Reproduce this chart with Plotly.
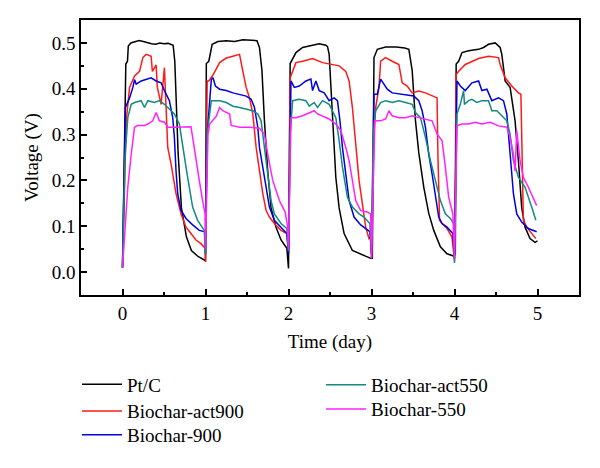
import plotly.graph_objects as go

# Pt/C
pt_t = [0.0, 0.04, 0.06, 0.07, 0.1, 0.15, 0.2, 0.25, 0.3, 0.35, 0.4, 0.45, 0.5, 0.55, 0.61, 0.63, 0.67, 0.71, 0.77, 0.83, 0.91, 0.99,
        1.0, 1.01, 1.04, 1.08, 1.15, 1.25, 1.35, 1.45, 1.55, 1.62, 1.65, 1.68, 1.71, 1.75, 1.79, 1.85, 1.91, 1.98,
        2.0, 2.02, 2.09, 2.17, 2.29, 2.37, 2.45, 2.47, 2.49, 2.53, 2.57, 2.61, 2.67, 2.77, 2.89, 2.99,
        3.01, 3.03, 3.07, 3.17, 3.3, 3.4, 3.45, 3.49, 3.53, 3.57, 3.63, 3.69, 3.75, 3.83, 3.91, 3.99,
        4.01, 4.02, 4.05, 4.09, 4.17, 4.29, 4.35, 4.41, 4.49, 4.55, 4.57, 4.61, 4.67, 4.73, 4.77, 4.81, 4.85, 4.91, 4.97, 5.0]
pt_v = [0.01, 0.454, 0.46, 0.493, 0.5, 0.502, 0.505, 0.503, 0.5, 0.498, 0.497, 0.5, 0.498, 0.499, 0.495, 0.46, 0.26, 0.14, 0.077, 0.047, 0.034, 0.027,
        0.025, 0.455, 0.46, 0.497, 0.503, 0.505, 0.503, 0.507, 0.505, 0.505, 0.49, 0.44, 0.33, 0.22, 0.14, 0.098, 0.07, 0.052,
        0.008, 0.455, 0.479, 0.49, 0.495, 0.498, 0.495, 0.492, 0.475, 0.33, 0.207, 0.14, 0.084, 0.047, 0.037, 0.03,
        0.03, 0.468, 0.486, 0.491, 0.491, 0.489, 0.486, 0.44, 0.33, 0.26, 0.185, 0.128, 0.091, 0.055, 0.04, 0.035,
        0.04, 0.454, 0.46, 0.479, 0.483, 0.486, 0.49, 0.497, 0.5, 0.49, 0.475, 0.417, 0.403, 0.33, 0.243, 0.14, 0.098, 0.073, 0.065, 0.068]

# Biochar-act900
act900_t = [0.0, 0.045, 0.085, 0.145, 0.205, 0.245, 0.285, 0.345, 0.36, 0.405, 0.42, 0.465, 0.505, 0.525, 0.545, 0.585, 0.645, 0.705, 0.765, 0.825, 0.885, 0.945, 0.995,
            1.0, 1.02, 1.04, 1.09, 1.17, 1.25, 1.33, 1.41, 1.45, 1.49, 1.53, 1.57, 1.61, 1.65, 1.69, 1.73, 1.77, 1.83, 1.91, 1.98,
            2.0, 2.02, 2.05, 2.09, 2.17, 2.29, 2.41, 2.53, 2.61, 2.69, 2.73, 2.77, 2.81, 2.85, 2.89, 2.93, 2.97, 2.99,
            3.0, 3.03, 3.05, 3.09, 3.11, 3.17, 3.25, 3.33, 3.37, 3.43, 3.49, 3.57, 3.65, 3.73, 3.79, 3.8, 3.82, 3.85, 3.91, 3.97,
            4.0, 4.02, 4.05, 4.13, 4.21, 4.29, 4.41, 4.53, 4.55, 4.61, 4.69, 4.77, 4.8, 4.81, 4.83, 4.87, 4.93, 4.98]
act900_v = [0.01, 0.33, 0.403, 0.428, 0.438, 0.468, 0.475, 0.471, 0.438, 0.452, 0.403, 0.366, 0.446, 0.366, 0.272, 0.236, 0.171, 0.127, 0.098, 0.084, 0.07, 0.062, 0.052,
            0.022, 0.417, 0.417, 0.43, 0.457, 0.467, 0.471, 0.475, 0.438, 0.403, 0.38, 0.345, 0.272, 0.22, 0.171, 0.135, 0.12, 0.106, 0.091, 0.084,
            0.05, 0.424, 0.438, 0.457, 0.46, 0.466, 0.457, 0.453, 0.45, 0.438, 0.417, 0.359, 0.272, 0.2, 0.149, 0.098, 0.073, 0.076,
            0.03, 0.3, 0.359, 0.403, 0.46, 0.468, 0.46, 0.453, 0.413, 0.406, 0.391, 0.395, 0.391, 0.384, 0.38, 0.257, 0.113, 0.106, 0.095, 0.076,
            0.025, 0.431, 0.438, 0.453, 0.46, 0.466, 0.471, 0.468, 0.453, 0.424, 0.406, 0.391, 0.388, 0.257, 0.113, 0.098, 0.084, 0.073]

# Biochar-900
b900_t = [0.0, 0.035, 0.085, 0.125, 0.145, 0.165, 0.225, 0.285, 0.345, 0.405, 0.465, 0.505, 0.565, 0.605, 0.625, 0.645, 0.665, 0.705, 0.765, 0.845, 0.925, 0.995,
          1.0, 1.02, 1.07, 1.09, 1.12, 1.17, 1.25, 1.33, 1.41, 1.49, 1.55, 1.59, 1.63, 1.65, 1.69, 1.73, 1.77, 1.83, 1.91, 1.98,
          2.0, 2.03, 2.07, 2.13, 2.21, 2.27, 2.29, 2.33, 2.37, 2.43, 2.49, 2.55, 2.59, 2.62, 2.65, 2.69, 2.73, 2.79, 2.87, 2.98,
          3.0, 3.03, 3.07, 3.11, 3.15, 3.19, 3.25, 3.33, 3.41, 3.51, 3.57, 3.61, 3.65, 3.69, 3.73, 3.77, 3.81, 3.85, 3.91, 3.98,
          4.0, 4.03, 4.07, 4.13, 4.21, 4.29, 4.33, 4.39, 4.45, 4.53, 4.59, 4.63, 4.67, 4.71, 4.75, 4.81, 4.89, 4.99]
b900_v = [0.01, 0.359, 0.38, 0.403, 0.42, 0.41, 0.417, 0.421, 0.424, 0.417, 0.413, 0.396, 0.374, 0.337, 0.294, 0.22, 0.171, 0.135, 0.117, 0.103, 0.091, 0.088,
          0.04, 0.3, 0.42, 0.424, 0.406, 0.399, 0.396, 0.391, 0.388, 0.384, 0.377, 0.359, 0.316, 0.272, 0.229, 0.185, 0.142, 0.113, 0.098, 0.084,
          0.04, 0.417, 0.403, 0.406, 0.417, 0.421, 0.396, 0.417, 0.396, 0.391, 0.374, 0.38, 0.374, 0.33, 0.272, 0.207, 0.156, 0.12, 0.103, 0.088,
          0.04, 0.388, 0.388, 0.421, 0.41, 0.399, 0.391, 0.389, 0.387, 0.384, 0.374, 0.352, 0.316, 0.257, 0.214, 0.163, 0.12, 0.106, 0.098, 0.084,
          0.03, 0.417, 0.406, 0.396, 0.413, 0.417, 0.396, 0.399, 0.374, 0.38, 0.374, 0.345, 0.257, 0.171, 0.127, 0.109, 0.095, 0.088]

# Biochar-act550
act550_t = [0.0, 0.03, 0.064, 0.105, 0.145, 0.225, 0.265, 0.305, 0.385, 0.445, 0.505, 0.565, 0.625, 0.685, 0.725, 0.765, 0.805, 0.845, 0.905, 0.985,
            1.0, 1.02, 1.07, 1.17, 1.25, 1.33, 1.41, 1.49, 1.57, 1.63, 1.67, 1.71, 1.75, 1.79, 1.83, 1.91, 1.98,
            2.0, 2.02, 2.05, 2.13, 2.21, 2.25, 2.31, 2.35, 2.41, 2.49, 2.53, 2.57, 2.61, 2.65, 2.71, 2.77, 2.85, 2.91, 2.98,
            3.0, 3.02, 3.05, 3.11, 3.17, 3.25, 3.33, 3.41, 3.49, 3.53, 3.59, 3.65, 3.71, 3.77, 3.83, 3.89, 3.95, 3.99,
            4.0, 4.03, 4.07, 4.11, 4.12, 4.17, 4.21, 4.27, 4.33, 4.41, 4.45, 4.51, 4.57, 4.63, 4.67, 4.71, 4.77, 4.85, 4.93, 4.98]
act550_v = [0.01, 0.25, 0.337, 0.366, 0.37, 0.374, 0.359, 0.374, 0.37, 0.374, 0.366, 0.355, 0.345, 0.323, 0.272, 0.229, 0.185, 0.142, 0.113, 0.091,
            0.04, 0.3, 0.374, 0.374, 0.37, 0.362, 0.359, 0.355, 0.352, 0.345, 0.33, 0.272, 0.207, 0.156, 0.127, 0.106, 0.095,
            0.045, 0.3, 0.374, 0.377, 0.374, 0.362, 0.37, 0.359, 0.374, 0.366, 0.352, 0.337, 0.287, 0.229, 0.163, 0.142, 0.127, 0.12, 0.106,
            0.04, 0.3, 0.352, 0.37, 0.374, 0.37, 0.374, 0.37, 0.366, 0.348, 0.337, 0.294, 0.243, 0.2, 0.156, 0.127, 0.117, 0.106,
            0.02, 0.345, 0.366, 0.396, 0.366, 0.374, 0.377, 0.37, 0.374, 0.374, 0.352, 0.352, 0.341, 0.33, 0.301, 0.243, 0.207, 0.185, 0.142, 0.113]

# Biochar-550
b550_t = [0.0, 0.064, 0.105, 0.145, 0.185, 0.265, 0.305, 0.365, 0.405, 0.445, 0.505, 0.545, 0.625, 0.705, 0.825, 0.845, 0.885, 0.925, 0.965, 0.995,
          1.0, 1.03, 1.05, 1.13, 1.17, 1.21, 1.29, 1.31, 1.41, 1.53, 1.65, 1.71, 1.75, 1.81, 1.89, 1.96, 1.99,
          2.0, 2.03, 2.09, 2.17, 2.25, 2.31, 2.35, 2.41, 2.49, 2.57, 2.63, 2.69, 2.73, 2.77, 2.81, 2.87, 2.95, 2.99,
          3.0, 3.04, 3.11, 3.17, 3.21, 3.25, 3.33, 3.41, 3.49, 3.57, 3.65, 3.73, 3.79, 3.85, 3.89, 3.93, 3.98,
          4.0, 4.03, 4.09, 4.17, 4.25, 4.33, 4.43, 4.53, 4.63, 4.67, 4.71, 4.73, 4.75, 4.79, 4.83, 4.89, 4.95, 4.99]
b550_v = [0.01, 0.185, 0.257, 0.316, 0.32, 0.32, 0.323, 0.33, 0.348, 0.33, 0.327, 0.316, 0.316, 0.317, 0.317, 0.294, 0.243, 0.2, 0.156, 0.127,
          0.05, 0.3, 0.323, 0.34, 0.359, 0.352, 0.345, 0.32, 0.316, 0.316, 0.314, 0.301, 0.257, 0.2, 0.156, 0.131, 0.098,
          0.05, 0.337, 0.337, 0.341, 0.348, 0.352, 0.345, 0.341, 0.334, 0.323, 0.309, 0.272, 0.243, 0.2, 0.156, 0.134, 0.131, 0.127,
          0.03, 0.33, 0.33, 0.334, 0.352, 0.341, 0.337, 0.337, 0.341, 0.337, 0.334, 0.33, 0.301, 0.287, 0.229, 0.163, 0.127,
          0.03, 0.319, 0.323, 0.323, 0.327, 0.323, 0.327, 0.319, 0.316, 0.294, 0.257, 0.22, 0.309, 0.243, 0.207, 0.185, 0.163, 0.145]

# one legend per entry so each row sits where it does in the figure
series = [
    ("Pt/C", pt_t, pt_v, "#000000", "legend"),
    ("Biochar-act900", act900_t, act900_v, "#ff1a1a", "legend2"),
    ("Biochar-900", b900_t, b900_v, "#0000dd", "legend3"),
    ("Biochar-act550", act550_t, act550_v, "#118a80", "legend4"),
    ("Biochar-550", b550_t, b550_v, "#ff22ff", "legend5"),
]
legend_pos = {
    "legend": (-0.008, -0.325),
    "legend2": (-0.008, -0.422),
    "legend3": (-0.008, -0.509),
    "legend4": (0.482, -0.327),
    "legend5": (0.482, -0.415),
}

fig = go.Figure()
for name, t, v, color, leg in series:
    fig.add_trace(go.Scatter(x=t, y=v, mode="lines", name=name, showlegend=True,
                             line=dict(color=color, width=1.5), legend=leg))

font = dict(family="Liberation Serif, Times New Roman, serif", size=19, color="black")
axis_style = dict(
    showline=True, mirror=True, linecolor="black", linewidth=1.5,
    showgrid=False, zeroline=False, automargin=False,
    ticks="inside", ticklen=6, tickwidth=1.5, tickcolor="black",
    tickfont=font,
)

legends = {}
for key, (lx, ly) in legend_pos.items():
    legends[key] = dict(x=lx, y=ly, xanchor="left", yanchor="middle", font=font,
                        bgcolor="rgba(0,0,0,0)", itemwidth=40)

# the page body adds an 8px offset, so margins are set 8px short on the left/top
fig.update_layout(
    width=600, height=468,
    margin=dict(l=73, r=29, t=12, b=181, autoexpand=False),
    plot_bgcolor="white", paper_bgcolor="white",
    font=font,
    showlegend=True,
    xaxis=dict(range=[-0.5, 5.5], tickmode="linear", tick0=0, dtick=1,
               minor=dict(ticks="inside", ticklen=3, tick0=0, dtick=0.5, tickcolor="black"),
               title=dict(text="Time (day)", font=font, standoff=12),
               **axis_style),
    yaxis=dict(range=[-0.05, 0.55], tickmode="linear", tick0=0, dtick=0.1, tickformat=".1f",
               minor=dict(ticks="inside", ticklen=3, tick0=0, dtick=0.05, tickcolor="black"),
               title=dict(text="Voltage (V)", font=font, standoff=8),
               **axis_style),
    **legends,
)

fig.write_html("out.html")
